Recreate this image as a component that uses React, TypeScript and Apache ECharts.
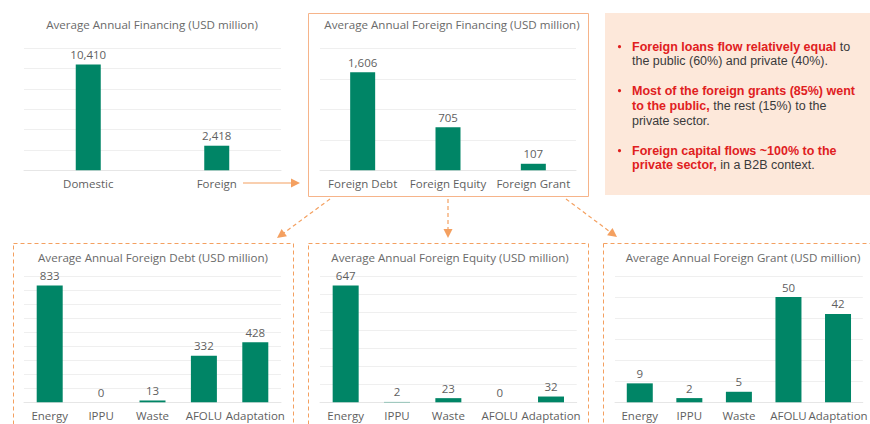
import React, { useEffect, useRef } from "react";
import * as echarts from "echarts";

const topCats = ["Domestic", "Foreign"];
const topVals = [10410, 2418];
const foreignCats = ["Foreign Debt", "Foreign Equity", "Foreign Grant"];
const foreignVals = [1606, 705, 107];
const sectorCats = ["Energy", "IPPU", "Waste", "AFOLU", "Adaptation"];
const debtVals = [833, 0, 13, 332, 428];
const equityVals = [647, 2, 23, 0, 32];
const grantVals = [9, 2, 5, 50, 42];

const chartTitles = [
  "Average Annual Financing (USD million)",
  "Average Annual Foreign Financing (USD million)",
  "Average Annual Foreign Debt (USD million)",
  "Average Annual Foreign Equity (USD million)",
  "Average Annual Foreign Grant (USD million)",
];
const axisMax = [12000, 2000, 900, 700, 60];
const axisStep = [2000, 500, 100, 100, 10];

// note lines: [text, isRed] segments
const noteLines: { segs: [string, boolean][]; bullet?: boolean }[] = [
  { segs: [["Foreign loans flow relatively equal", true], [" to", false]], bullet: true },
  { segs: [["the public (60%) and private (40%).", false]] },
  { segs: [["Most of the foreign grants (85%) went", true]], bullet: true },
  { segs: [["to the public,", true], [" the rest (15%) to the", false]] },
  { segs: [["private sector.", false]] },
  { segs: [["Foreign capital flows ~100% to the", true]], bullet: true },
  { segs: [["private sector,", true], [" in a B2B context.", false]] },
];
const noteY = [46.7, 61.2, 90.7, 105.9, 120.7, 150.7, 165.2];

const GREEN = "#008566";
const ORANGE = "#F4A060";
const GREY = "#5f5f5f";
const RED = "#E0201E";
const FONT = "Open Sans";
const NOTE_FONT = "Liberation Sans";
const NOTE_SIZE = 12.5;

function arrowHead(x1: number, y1: number, x2: number, y2: number, len = 9, half = 4.5) {
  const dx = x2 - x1, dy = y2 - y1;
  const d = Math.hypot(dx, dy);
  const ux = dx / d, uy = dy / d;
  const bx = x2 - ux * len, by = y2 - uy * len;
  const px = -uy, py = ux;
  return [[x2, y2], [bx + px * half, by + py * half], [bx - px * half, by - py * half]];
}

function arrow(x1: number, y1: number, x2: number, y2: number, dashed: boolean) {
  const head = arrowHead(x1, y1, x2, y2);
  const d = Math.hypot(x2 - x1, y2 - y1);
  const ux = (x2 - x1) / d;
  const uy = (y2 - y1) / d;
  return [
    {
      type: "line",
      shape: { x1, y1, x2: x2 - ux * 7, y2: y2 - uy * 7 },
      style: { stroke: ORANGE, lineWidth: 1.2, lineDash: dashed ? [4, 3] : null },
      silent: true,
    },
    { type: "polygon", shape: { points: head }, style: { fill: ORANGE }, silent: true },
  ];
}

const grids = [
  { left: 24, top: 48.3, width: 257, height: 122 },
  { left: 320, top: 48.3, width: 256, height: 122 },
  { left: 24, top: 276, width: 257, height: 126.3 },
  { left: 320, top: 276, width: 256.7, height: 126.3 },
  { left: 615, top: 276, width: 254, height: 126.3 },
];
const titlePos = [
  [152, 18],
  [452, 18],
  [153, 251],
  [450, 251],
  [743, 251],
];

export default function App() {
  const ref = useRef<HTMLDivElement>(null);
  useEffect(() => {
    if (!ref.current) return;
    const chart = echarts.init(ref.current, null, { renderer: "svg" });
    const catsList = [topCats, foreignCats, sectorCats, sectorCats, sectorCats];
    const valsList = [topVals, foreignVals, debtVals, equityVals, grantVals];
    const fmt = (v: number) => v.toLocaleString("en-US");

    const ctx = document.createElement("canvas").getContext("2d")!;
    const measure = (t: string, bold: boolean) => {
      ctx.font = `${bold ? "bold " : ""}${NOTE_SIZE}px "${NOTE_FONT}"`;
      return ctx.measureText(t).width;
    };

    const graphic: any[] = [
      {
        type: "rect",
        shape: { x: 308.5, y: 13.5, width: 280, height: 183 },
        style: { fill: "#fff", stroke: "#F6B48A", lineWidth: 1 },
        z: -10,
        silent: true,
      },
      {
        type: "rect",
        shape: { x: 605, y: 13, width: 280, height: 182 },
        style: { fill: "#FDE8DA" },
        z: -10,
        silent: true,
      },
      {
        type: "rect",
        shape: { x: 13.5, y: 243.5, width: 280, height: 220 },
        style: { fill: "none", stroke: ORANGE, lineWidth: 1, lineDash: [4, 3] },
        z: -10,
        silent: true,
      },
      {
        type: "rect",
        shape: { x: 308.5, y: 243.5, width: 280, height: 220 },
        style: { fill: "none", stroke: ORANGE, lineWidth: 1, lineDash: [4, 3] },
        z: -10,
        silent: true,
      },
      {
        type: "rect",
        shape: { x: 603.5, y: 243.5, width: 300, height: 220 },
        style: { fill: "none", stroke: ORANGE, lineWidth: 1, lineDash: [4, 3] },
        z: -10,
        silent: true,
      },
      ...arrow(243, 183, 300, 183, false),
      ...arrow(330, 199, 277, 238, true),
      ...arrow(448, 199, 448, 238, true),
      ...arrow(566, 199, 617, 237, true),
    ];
    noteLines.forEach((l, i) => {
      const y = noteY[i];
      if (l.bullet) {
        graphic.push({
          type: "circle",
          shape: { cx: 619.5, cy: y, r: 1.6 },
          style: { fill: RED },
          silent: true,
        });
      }
      let x = 632;
      l.segs.forEach(([t, red]) => {
        graphic.push({
          type: "text",
          x,
          y,
          style: {
            text: t,
            fill: red ? RED : "#3a3a3a",
            fontWeight: red ? "bold" : "normal",
            fontSize: NOTE_SIZE,
            fontFamily: NOTE_FONT,
            verticalAlign: "middle",
          },
          silent: true,
        });
        x += measure(t, red);
      });
    });

    chart.setOption({
      animation: false,
      textStyle: { fontFamily: FONT },
      title: chartTitles.map((t, i) => ({
        text: t,
        left: titlePos[i][0],
        top: titlePos[i][1],
        textAlign: "center",
        padding: 0,
        textStyle: { fontSize: 11.6, fontWeight: "normal", color: "#6a6a6a", fontFamily: FONT },
      })),
      grid: grids.map((g) => ({ ...g, containLabel: false })),
      xAxis: catsList.map((c, i) => ({
        type: "category",
        gridIndex: i,
        data: c,
        axisTick: { show: false },
        axisLine: { lineStyle: { color: "#e6e6e6" } },
        axisLabel: { color: GREY, fontSize: 11.5, margin: 7, interval: 0, fontFamily: FONT },
      })),
      yAxis: axisMax.map((m, i) => ({
        type: "value",
        gridIndex: i,
        min: 0,
        max: m,
        interval: axisStep[i],
        axisLabel: { show: false },
        axisLine: { show: false },
        axisTick: { show: false },
        splitLine: { lineStyle: { color: "#efefef" } },
      })),
      series: valsList.map((v, i) => ({
        type: "bar",
        xAxisIndex: i,
        yAxisIndex: i,
        data: v,
        barWidth: i < 2 ? 25 : 26,
        itemStyle: { color: GREEN },
        label: {
          show: true,
          position: "top",
          distance: 4,
          color: GREY,
          fontSize: 11.5,
          fontFamily: FONT,
          formatter: (p: any) => fmt(p.value),
        },
      })),
      graphic,
    });
    return () => chart.dispose();
  }, []);
  return (
    <div
      ref={ref}
      style={{ position: "fixed", left: 0, top: 0, width: 870, height: 424, background: "#fff" }}
    />
  );
}
